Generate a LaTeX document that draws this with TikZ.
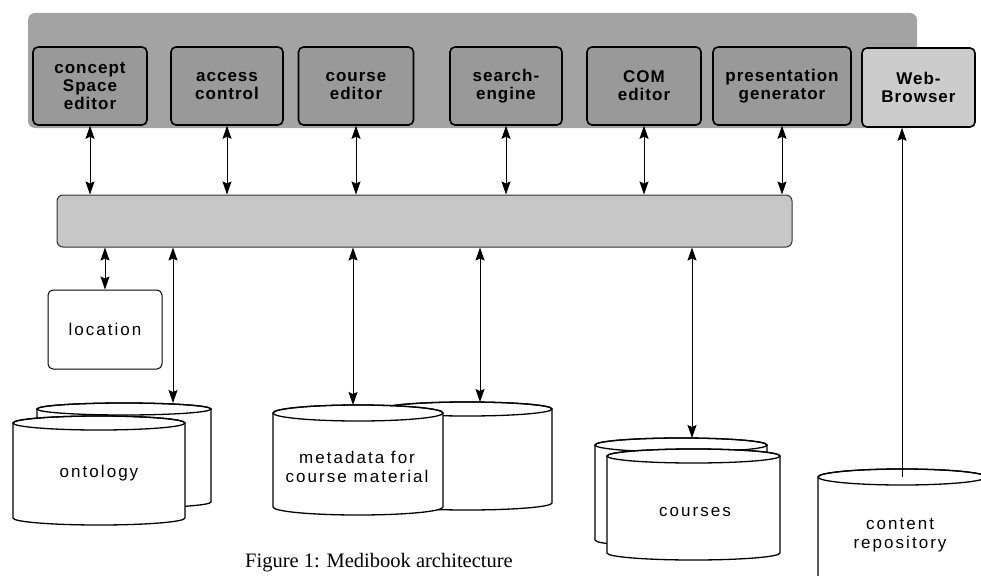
\documentclass[tikz,border=0pt]{standalone}
\usepackage{fontspec}
\setmainfont{Liberation Serif}
\newfontfamily\diagfont[LetterSpace=6]{Liberation Sans}
\newfontfamily\dbfont[LetterSpace=12]{Liberation Sans}
\usetikzlibrary{arrows.meta,positioning}
\definecolor{bandgray}{gray}{0.64}
\definecolor{boxgray}{gray}{0.60}
\definecolor{webgray}{gray}{0.80}
\definecolor{bargray}{gray}{0.78}
\tikzset{
	>={Stealth[length=13pt,width=9pt,inset=2pt]},
	band/.style={fill=bandgray, rounded corners=7pt},
	modbox/.style={
		rectangle,
		rounded corners=5pt,
		draw=black, line width=1.6pt,
		fill=boxgray,
		minimum width=114pt,
		minimum height=78pt,
		inner sep=1pt,
		align=center,
		font=\diagfont\bfseries\fontsize{17}{18}\selectfont},
	bus/.style={
		rectangle, rounded corners=6pt,
		draw=black!80, line width=1pt,
		fill=bargray,
		minimum width=735pt, minimum height=52pt},
	plainbox/.style={
		rectangle, rounded corners=5pt,
		draw=black, line width=1pt,
		minimum width=114pt, minimum height=79pt,
		font=\dbfont\fontsize{17}{19}\selectfont},
	dbtext/.style={align=center, font=\dbfont\fontsize{17}{19}\selectfont},
	line/.style={draw, line width=0.9pt},
	drumline/.style={draw=black, line width=1.3pt, fill=white},
}
% #1 left x, #2 right x, #3 top y, #4 bottom y, #5 half height of the ellipse
\newcommand*\drum[5]{
	\pgfmathsetmacro\drumrx{(#2-#1)/2}
	\path[drumline] (#1,#3) -- (#1,#4)
		arc[start angle=180, end angle=360, x radius=\drumrx pt, y radius=#5pt]
		-- (#2,#3)
		arc[start angle=0, end angle=180, x radius=\drumrx pt, y radius=#5pt] -- cycle;
	\draw[line width=1.3pt] ({(#1+#2)/2},#3) ellipse[x radius=\drumrx pt, y radius=#5pt];
}

\begin{document}
\begin{tikzpicture}[x=1pt,y=-1pt]
\clip (0,0) rectangle (981,575);
\fill[white] (0,0) rectangle (981,575);

% tool layer
\path[band] (28,13) rectangle (917,128);
\node[modbox] (concept) at (90,86) {concept\\Space\\editor};
\node[modbox, minimum width=112pt] (access) at (227,86) {access\\control};
\node[modbox, minimum width=115pt] (course) at (356,86) {course\\editor};
\node[modbox, minimum width=112pt] (search) at (506,86) {search-\\engine};
\node[modbox] (com) at (644,86) {COM\\editor};
\node[modbox, minimum width=138pt] (present) at (782,86) {presentation\\generator};
\node[modbox, fill=webgray, minimum width=113pt, minimum height=79pt] (web) at (918.5,87.5) {Web-\\Browser};

\node[bus] (bar) at (424.5,221) {};
\node[plainbox] (location) at (105,329.5) {location};

% repositories
\drum{37}{211}{409}{502}{6}
\drum{13}{185}{423}{518}{7}
\coordinate (ontoTop) at (173,403);
\node[dbtext] (ontology) at (99,473) {ontology};

\drum{382}{552}{409}{503}{7}
\drum{273}{443}{413}{507}{8}
\coordinate (metaTop) at (353,405);
\coordinate (metaTopB) at (480,402);
\node[dbtext] (metadata) at (357,467) {metadata for\\course material};

\drum{595}{767}{445}{540}{7}
\drum{607}{780}{456}{553}{7}
\coordinate (courseTop) at (692,438);
\node[dbtext] (courses) at (695,512) {courses};

\drum{818}{986}{477}{620}{8}
\coordinate (repoTop) at (902,477);
\node[dbtext] (repo) at (900,535) {content\\repository};

% connectors
\foreach \m in {concept,access,course,search,com,present}
	\draw[line, <->] (\m.south) -- (\m.south |- bar.north);
\draw[line, <->] (bar.south -| location.north) -- (location.north);
\draw[line, <->] (bar.south -| ontoTop) -- (ontoTop);
\draw[line, <->] (bar.south -| metaTop) -- (metaTop);
\draw[line, <->] (bar.south -| metaTopB) -- (metaTopB);
\draw[line, <->] (bar.south -| courseTop) -- (courseTop);
\draw[line, ->] (repoTop) -- (repoTop |- web.south);

\node (caption) at (379,563) {\fontsize{20.5}{24}\selectfont Figure 1: Medibook architecture};
\end{tikzpicture}
\end{document}
